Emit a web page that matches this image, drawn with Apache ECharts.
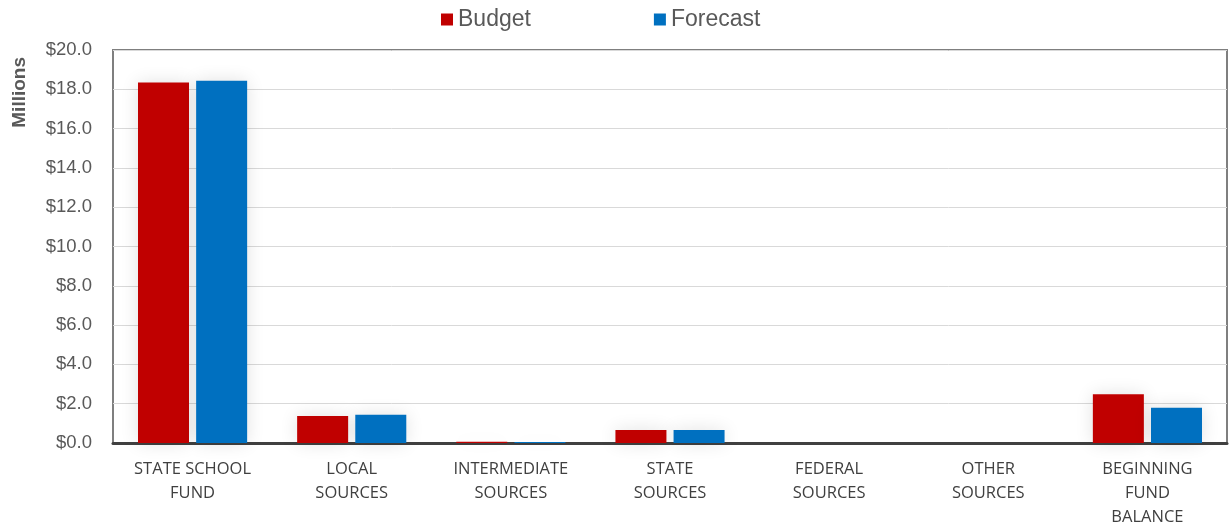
<!DOCTYPE html>
<html>
<head>
<meta charset="utf-8">
<script src="https://cdn.jsdelivr.net/npm/echarts@6/dist/echarts.min.js"></script>
<style>html,body{margin:0;padding:0;background:#fff}#c{width:1231px;height:529px}</style>
</head>
<body>
<div id="c"></div>
<script>
const categories = ["STATE SCHOOL\nFUND", "LOCAL\nSOURCES", "INTERMEDIATE\nSOURCES", "STATE\nSOURCES", "FEDERAL\nSOURCES", "OTHER\nSOURCES", "BEGINNING\nFUND\nBALANCE"];
const budget = [18.35, 1.38, 0.06, 0.66, 0, 0, 2.48];
const forecast = [18.43, 1.44, 0.05, 0.66, 0, 0, 1.79];
const seriesNames = ["Budget", "Forecast"];
const axisTitle = "Millions";

const chart = echarts.init(document.getElementById('c'));
const barShadow = { shadowColor: 'rgba(0,0,0,0.12)', shadowBlur: 18 };
chart.setOption({
  animation: false,
  legend: {
    top: 3, left: 436,
    itemWidth: 12, itemHeight: 12, itemGap: 123,
    icon: 'rect',
    textStyle: { fontFamily: 'Liberation Sans', fontSize: 23, color: '#595959' },
    data: seriesNames
  },
  grid: {
    left: 113, right: 4, top: 50, bottom: 85,
    show: true, borderColor: '#7f7f7f', borderWidth: 2, backgroundColor: '#fff'
  },
  graphic: [{
    type: 'text', left: 10, top: 57, rotation: Math.PI / 2,
    style: { text: axisTitle, font: 'bold 19px "Liberation Sans"', fill: '#595959' }
  }],
  xAxis: {
    type: 'category', data: categories,
    axisLine: { lineStyle: { color: '#404040', width: 3 } },
    axisTick: { show: false },
    axisLabel: { interval: 0, fontFamily: 'Open Sans', fontSize: 16.5, color: '#404040', lineHeight: 24, margin: 14 }
  },
  yAxis: {
    type: 'value', min: 0, max: 20, interval: 2,
    axisLine: { show: false }, axisTick: { show: false },
    splitLine: { lineStyle: { color: '#d9d9d9', width: 1 } },
    axisLabel: { fontFamily: 'Liberation Sans', fontSize: 18.5, color: '#595959', margin: 21,
      formatter: v => '$' + v.toFixed(1) }
  },
  series: [
    { name: seriesNames[0], type: 'bar', data: budget, barWidth: 51, barGap: '14%',
      itemStyle: Object.assign({ color: '#c00000' }, barShadow) },
    { name: seriesNames[1], type: 'bar', data: forecast, barWidth: 51, barGap: '14%',
      itemStyle: Object.assign({ color: '#0070c0' }, barShadow) }
  ]
});
</script>
</body>
</html>
